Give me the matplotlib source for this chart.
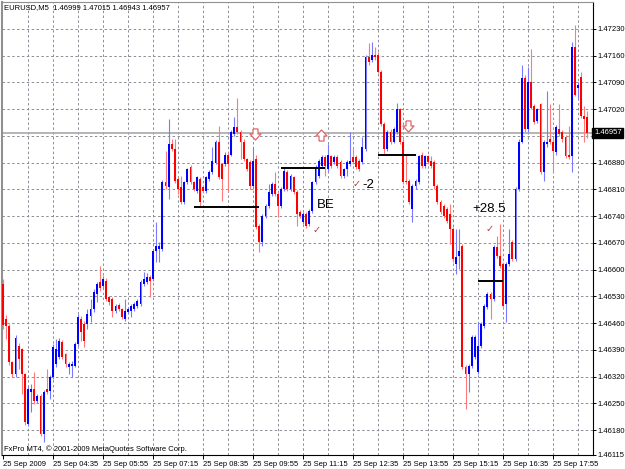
import numpy as np
import matplotlib
matplotlib.use("Agg")
import matplotlib.pyplot as plt

# EURUSD M5, prices given in points (1e-5) above 1.46000
BASE = 1.46

opens = [562, 471, 453, 359, 327, 400, 392, 327, 197, 280, 288, 257, 270, 171, 288, 283,
         319, 353, 372, 411, 379, 346, 348, 348, 406, 471, 458, 458, 479, 497, 536, 567,
         557, 570, 528, 523, 492, 507, 497, 471, 489, 492, 497, 505, 510, 562, 567, 580,
         575, 648, 653, 653, 828, 815, 928, 915, 836, 815, 776, 828, 868, 828, 805, 836,
         815, 805, 836, 854, 880, 933, 875, 875, 901, 901, 954, 972, 959, 935, 888, 881,
         818, 888, 713, 672, 740, 766, 797, 823, 797, 766, 810, 854, 810, 841, 802, 750,
         724, 745, 719, 753, 828, 844, 870, 894, 862, 896, 881, 894, 881, 844, 862, 875,
         894, 894, 883, 881, 915, 1157, 1149, 1162, 1162, 1118, 980, 915, 961, 935, 961, 1019,
         935, 831, 831, 758, 818, 828, 901, 870, 896, 883, 881, 818, 776, 766, 758, 745,
         706, 614, 635, 661, 346, 327, 348, 372, 332, 400, 453, 502, 536, 523, 659, 635,
         614, 510, 614, 672, 627, 810, 935, 1102, 967, 1092, 1027, 988, 1032, 854, 928, 941,
         935, 907, 967, 959, 946, 901, 896, 1183, 1076, 1105, 1001, 999]
highs = [575, 481, 458, 362, 429, 408, 395, 330, 295, 301, 332, 275, 275, 285, 340, 325,
         405, 419, 420, 415, 382, 358, 360, 410, 485, 478, 465, 497, 523, 549, 568, 609,
         583, 578, 531, 528, 510, 512, 500, 523, 502, 510, 515, 523, 572, 593, 590, 585,
         655, 724, 672, 835, 909, 993, 941, 941, 841, 844, 833, 867, 873, 833, 846, 841,
         820, 846, 860, 920, 939, 975, 880, 907, 907, 965, 998, 1050, 965, 941, 893, 886,
         922, 901, 718, 745, 771, 823, 828, 854, 802, 815, 868, 860, 849, 846, 807, 755,
         750, 750, 758, 833, 873, 888, 899, 899, 928, 901, 899, 899, 886, 867, 886, 959,
         922, 899, 888, 948, 1162, 1194, 1196, 1181, 1168, 1123, 985, 965, 967, 972, 1037, 1024,
         941, 901, 836, 823, 836, 901, 907, 901, 901, 896, 886, 823, 781, 771, 763, 771,
         711, 706, 706, 667, 351, 353, 429, 429, 463, 463, 510, 541, 541, 664, 687, 719,
         620, 620, 706, 677, 815, 941, 1136, 1108, 1129, 1176, 1032, 1024, 1037, 939, 1066, 1032,
         941, 977, 1032, 965, 951, 975, 1196, 1241, 1090, 1118, 1027, 1015]
lows = [445, 419, 351, 319, 319, 340, 275, 194, 190, 228, 249, 252, 165, 150, 275, 262,
        315, 345, 365, 365, 345, 327, 319, 345, 400, 413, 398, 445, 463, 490, 515, 545,
        550, 518, 508, 476, 487, 492, 471, 466, 484, 476, 492, 500, 505, 557, 562, 528,
        570, 620, 620, 648, 812, 784, 910, 826, 797, 771, 771, 823, 823, 805, 800, 763,
        800, 800, 831, 849, 875, 836, 779, 870, 802, 896, 949, 954, 888, 883, 857, 810,
        812, 705, 646, 661, 735, 761, 792, 792, 737, 761, 805, 805, 805, 797, 714, 735,
        719, 709, 714, 748, 823, 839, 865, 844, 857, 865, 875, 865, 839, 839, 844, 870,
        875, 862, 857, 875, 910, 1136, 1144, 1149, 1113, 975, 901, 910, 928, 930, 956, 928,
        823, 823, 771, 724, 812, 823, 865, 865, 875, 865, 812, 771, 745, 735, 722, 667,
        620, 588, 601, 340, 236, 280, 343, 366, 327, 395, 448, 497, 471, 518, 630, 604,
        500, 463, 609, 622, 622, 805, 930, 961, 961, 1019, 980, 983, 849, 831, 922, 928,
        854, 901, 949, 935, 891, 888, 854, 1053, 1050, 996, 933, 943]
closes = [455, 453, 359, 327, 421, 366, 327, 202, 288, 288, 257, 270, 171, 280, 280, 319,
          398, 392, 413, 372, 353, 353, 353, 406, 476, 437, 413, 484, 497, 541, 562, 552,
          575, 523, 515, 492, 505, 497, 476, 492, 497, 505, 510, 518, 567, 575, 580, 570,
          648, 661, 661, 828, 818, 928, 915, 831, 810, 776, 828, 862, 828, 810, 841, 776,
          805, 841, 854, 883, 933, 841, 836, 901, 875, 959, 972, 959, 935, 888, 862, 818,
          883, 711, 672, 740, 766, 802, 823, 797, 766, 810, 857, 810, 844, 802, 745, 740,
          745, 714, 753, 828, 868, 883, 894, 870, 901, 870, 894, 870, 844, 862, 881, 883,
          881, 868, 862, 922, 1157, 1142, 1162, 1155, 1118, 980, 915, 959, 933, 967, 1019, 933,
          828, 828, 776, 818, 831, 896, 870, 896, 881, 870, 818, 776, 750, 740, 727, 706,
          627, 633, 648, 346, 327, 348, 424, 424, 400, 458, 505, 536, 523, 659, 635, 609,
          505, 614, 640, 627, 810, 935, 1102, 967, 1092, 1024, 985, 1019, 854, 933, 935, 933,
          909, 972, 954, 941, 896, 894, 1183, 1058, 1084, 1001, 993, 957]

time_labels = ["25 Sep 2009", "25 Sep 04:35", "25 Sep 05:55", "25 Sep 07:15",
               "25 Sep 08:35", "25 Sep 09:55", "25 Sep 11:15", "25 Sep 12:35",
               "25 Sep 13:55", "25 Sep 15:15", "25 Sep 16:35", "25 Sep 17:55"]
price_levels = [1.46180, 1.46250, 1.46320, 1.46390, 1.46460, 1.46530, 1.46600, 1.46670,
                1.46740, 1.46810, 1.46880, 1.46950, 1.47020, 1.47090, 1.47160, 1.47230]
last_price = 1.46957

# trade levels (bar from, bar to, price) and notes
trade_lines = [(61, 82, 1.46764), (89, 103, 1.46865), (120, 132, 1.46899), (152, 160, 1.46570)]
notes = [(103.4, 1.46768, "BE"), (117.0, 1.46821, "-2"), (155.7, 1.46758, "+28.5")]
checks = [(100.5, 1.46703), (113.0, 1.46823), (155.8, 1.46706)]
arrows = [(80.6, 1.46956, "down"), (101.8, 1.46951, "up"), (129.6, 1.46975, "down")]

o = BASE + np.array(opens) / 1e5
h = BASE + np.array(highs) / 1e5
l = BASE + np.array(lows) / 1e5
c = BASE + np.array(closes) / 1e5
x = np.arange(len(o))

SMALL = dict(family="Liberation Sans", size=5.5)

fig = plt.figure(figsize=(6.25, 4.69), dpi=100)
ax = fig.add_axes([2 / 625, 14 / 469, 591 / 625, 453 / 469])
ax.set_xlim(-0.32, 188.8)
ax.set_ylim(1.46115, 1.47300)

# grid
for lv in price_levels:
    ax.axhline(lv, color="#8c8c96", lw=0.7, ls=(0, (2.5, 2.5)), zorder=0)
for gx in range(8, 189, 8):
    ax.axvline(gx, color="#8c8c96", lw=0.7, ls=(0, (2.5, 2.5)), zorder=0)
ax.axhline(last_price, color="#a8a8a8", lw=1.2, zorder=1)

up = c >= o
body_lo = np.minimum(o, c)
body_h = np.maximum(np.abs(c - o), 0.000025)
ax.vlines(x[up], l[up], h[up], color="#7a7aff", lw=0.8, zorder=2)
ax.vlines(x[~up], l[~up], h[~up], color="#ff7a7a", lw=0.8, zorder=2)
ax.bar(x[up], body_h[up], bottom=body_lo[up], width=0.62, color="#0000ff", zorder=3)
ax.bar(x[~up], body_h[~up], bottom=body_lo[~up], width=0.62, color="#ff0000", zorder=3)

for x0, x1, p in trade_lines:
    ax.hlines(p, x0, x1, color="black", lw=1.4, zorder=4)
for bx, p, t in notes:
    ax.text(bx, p, t, ha="center", va="center", fontsize=9.5, family="Liberation Sans", zorder=5)
for bx, p in checks:
    ax.text(bx, p, "\u2713", ha="center", va="center", fontsize=7, color="#b03a3a", zorder=5)

# hollow MT4-style arrows
down_arrow = [(-0.45, 1), (0.45, 1), (0.45, 0.1), (1, 0.1), (0, -1), (-1, 0.1), (-0.45, 0.1), (-0.45, 1)]
up_arrow = [(px, -py) for px, py in down_arrow]
for bx, p, kind in arrows:
    ax.plot([bx], [p], marker=down_arrow if kind == "down" else up_arrow, ms=8,
            mfc="white", mec="#e06868", mew=0.9, ls="none", zorder=5)

# axes styling
for s in ax.spines.values():
    s.set_color("black")
    s.set_linewidth(0.8)
ax.spines["left"].set_color("#909090")
ax.spines["left"].set_linewidth(1.5)
ax.spines["top"].set_color("#909090")

yt = [p for p in price_levels if abs(p - 1.46950) > 1e-6] + [1.46115]
ax.yaxis.tick_right()
ax.set_yticks(yt)
ax.set_yticklabels(["%.5f" % p for p in yt], **SMALL)
ax.set_xticks(np.arange(len(time_labels)) * 16)
ax.set_xticklabels(time_labels, ha="left", **SMALL)
ax.tick_params(axis="both", length=3, width=0.7, pad=1.5)
ax.tick_params(axis="y", length=2.5, pad=1)

fig.text(594 / 625, 1 - 133 / 469, "%.5f" % last_price, color="white",
         va="center", ha="left", **SMALL,
         bbox=dict(boxstyle="square,pad=0.2", fc="black", ec="black"))
fig.text(4 / 625, 1 - 8 / 469, "EURUSD,M5  1.46999 1.47015 1.46943 1.46957",
         va="center", ha="left", **SMALL)
fig.text(4 / 625, 1 - 449 / 469, "FxPro MT4, \u00a9 2001-2009 MetaQuotes Software Corp.",
         va="center", ha="left", **SMALL)

fig.savefig("out.png", dpi=100, facecolor="white")
